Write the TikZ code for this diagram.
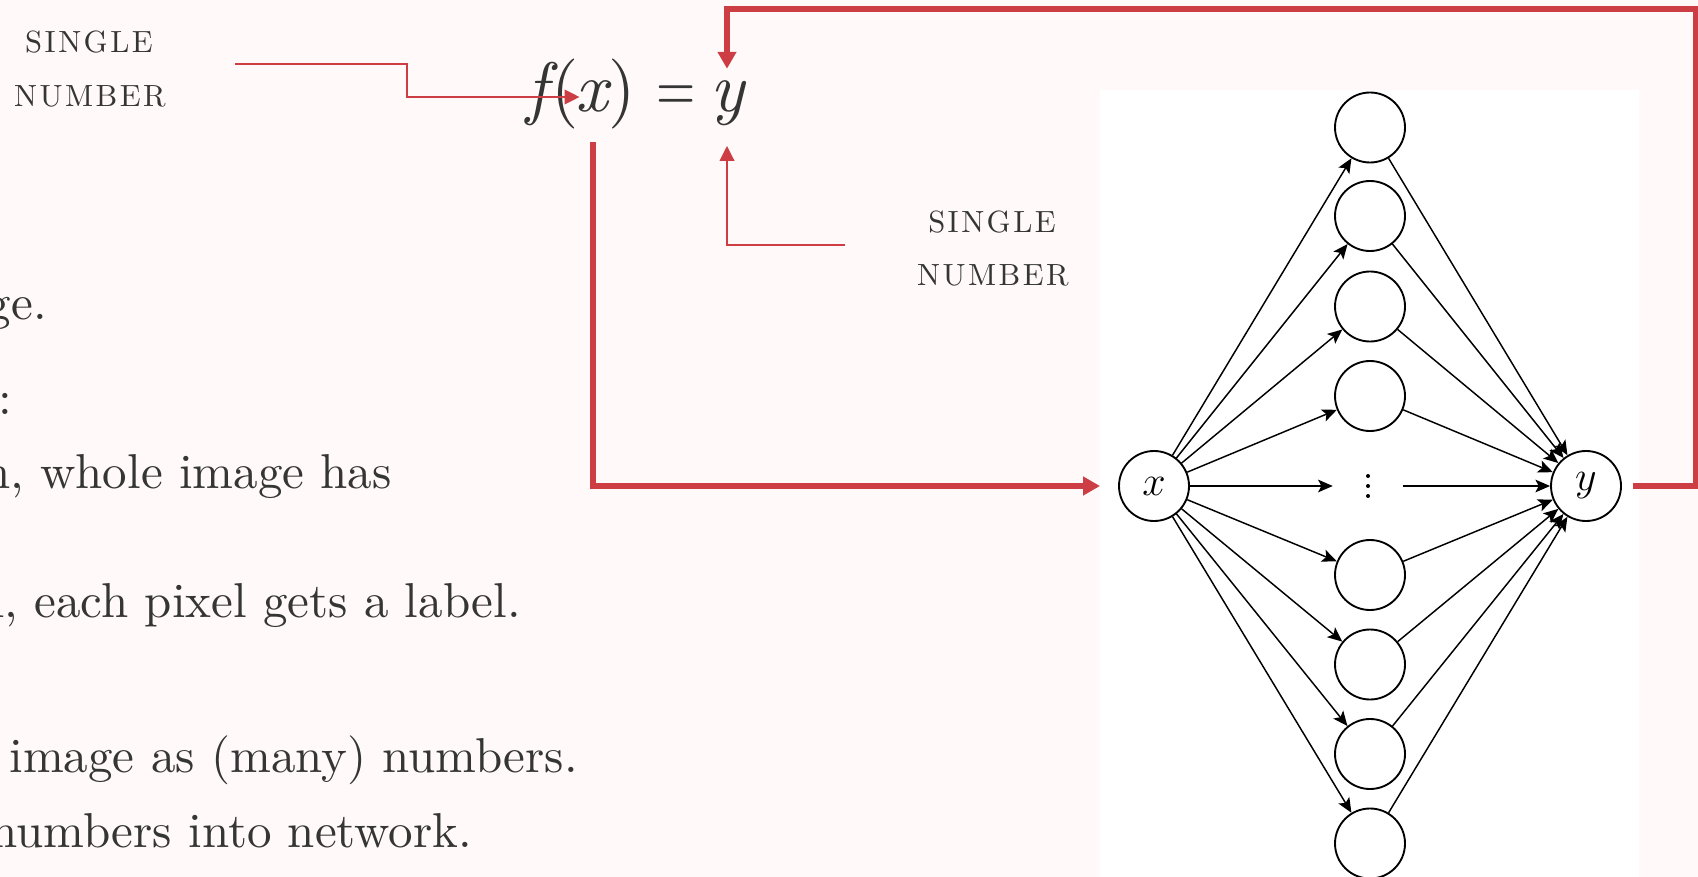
\RequirePackage{fix-cm}
\documentclass[tikz,border=0pt]{standalone}
\usepackage{fontspec}
\setmainfont{lmroman10-regular.otf}[ItalicFont=lmroman10-italic.otf,BoldFont=lmroman10-bold.otf]
\newfontfamily\capsfont{lmroman10-regular.otf}[LetterSpace=8]
\usepackage{graphicx}
\usetikzlibrary{arrows.meta,calc}
\definecolor{pagebg}{HTML}{FFFAF9}
\definecolor{inkgray}{HTML}{353535}
\definecolor{accent}{HTML}{CC3E44}
\newcommand{\bodysize}{\fontsize{36.75pt}{44pt}\selectfont}
\newcommand{\eqsize}{\fontsize{52.5pt}{60pt}\selectfont}
\newcommand{\capsize}{\capsfont\fontsize{23pt}{27pt}\selectfont}
\newcommand{\netsize}{\fontsize{31.5pt}{36pt}\selectfont}
\begin{document}
\begin{tikzpicture}[x=0.75pt,y=-0.75pt,
  bodytext/.style={inner sep=0pt,text=inkgray,font=\bodysize,anchor=base east},
  caplbl/.style={inner sep=0pt,text=inkgray,font=\capsize,anchor=base},
  eqglyph/.style={inner sep=0pt,anchor=base,text=inkgray,font=\eqsize},
  neuron/.style={circle,draw=black,line width=1.4pt,minimum size=52.5pt,inner sep=0pt,fill=white,font=\netsize},
  edge/.style={draw=black,line width=1.1pt,-{Stealth[length=11pt,width=9.5pt,inset=2.5pt]}},
  redthin/.style={draw=accent,line width=1.5pt},
  redthick/.style={draw=accent,line width=4.2pt},
  tipthin/.style={-{Triangle[length=11.25pt,width=11pt]}},
  tipthick/.style={-{Triangle[length=12.75pt,width=13.5pt]}}]
\useasboundingbox (0,0) rectangle (1698,877);
\fill[pagebg] (0,0) rectangle (1698,877);
\fill[white] (1100,90) rectangle (1639,877);

% body text (left, clipped)
\node[bodytext] (t1) at (47,319) {ge.};
\node[bodytext] (t2) at (12,414) {:};
\node[bodytext] (t3) at (392,488) {n, whole image has};
\node[bodytext] (t4) at (521,617) {n, each pixel gets a label.};
\node[bodytext] (t5) at (578,772) {image as (many) numbers.};
\node[bodytext] (t6) at (472,847) {numbers into network.};

% labels
\node[caplbl] (la1) at (89,53) {SINGLE};
\node[caplbl] (la2) at (90,107) {NUMBER};
\node[caplbl] (lb1) at (992,233) {SINGLE};
\node[caplbl] (lb2) at (993,286) {NUMBER};

% equation
\node[eqglyph] (eqf) at (537,112) {\itshape f};
\node[eqglyph] (eqlp) at (565,112) {(};
\node[eqglyph] (eqx) at (592,112) {\itshape x};
\node[eqglyph] (eqrp) at (622,112) {)};
\node[eqglyph] (eqeq) at (676,112) {\scalebox{0.72}[1]{=}};
\node[eqglyph] (eqy) at (727,112) {\itshape y};

% network
\node[neuron] (xin) at (1154,486) {$x$};
\node[neuron] (yout) at (1586,486) {$y$};
\foreach \i/\yy in {1/127.5,2/216,3/306.5,4/396,5/575,6/664.5,7/754,8/843.5}
  \node[neuron] (h\i) at (1370,\yy) {};
\node[circle,minimum size=52.5pt,inner sep=0pt] (dots) at (1368,486) {};
\foreach \d in {-10,0,10} \fill[black] ($(dots.center)+(0,\d)$) circle (2);
\foreach \i in {1,...,8} {
  \draw[edge] (xin) -- (h\i);
  \draw[edge] (h\i) -- (yout);
}
\draw[edge] (xin) -- (dots);
\draw[edge] (dots) -- (yout);

% red connectors
\coordinate (aStart) at (235,64);
\coordinate (aBend) at (407,97);
\draw[redthin,tipthin] (aStart) -| (aBend) -- ($(eqx.west |- aBend)+(4,0)$);
\coordinate (bStart) at (845,245);
\draw[redthin,tipthin,shorten >=14.5pt] (bStart) -| (eqy.south);
\draw[redthick,tipthick,shorten >=13.5pt] ($(eqx.base)+(1,30)$) |- (xin.west);
\coordinate (loopTR) at (1696,9);
\draw[redthick,tipthick,shorten <=8.25pt,shorten >=9pt] (yout.east) -| (loopTR) -| (eqy.north);
\end{tikzpicture}
\end{document}
